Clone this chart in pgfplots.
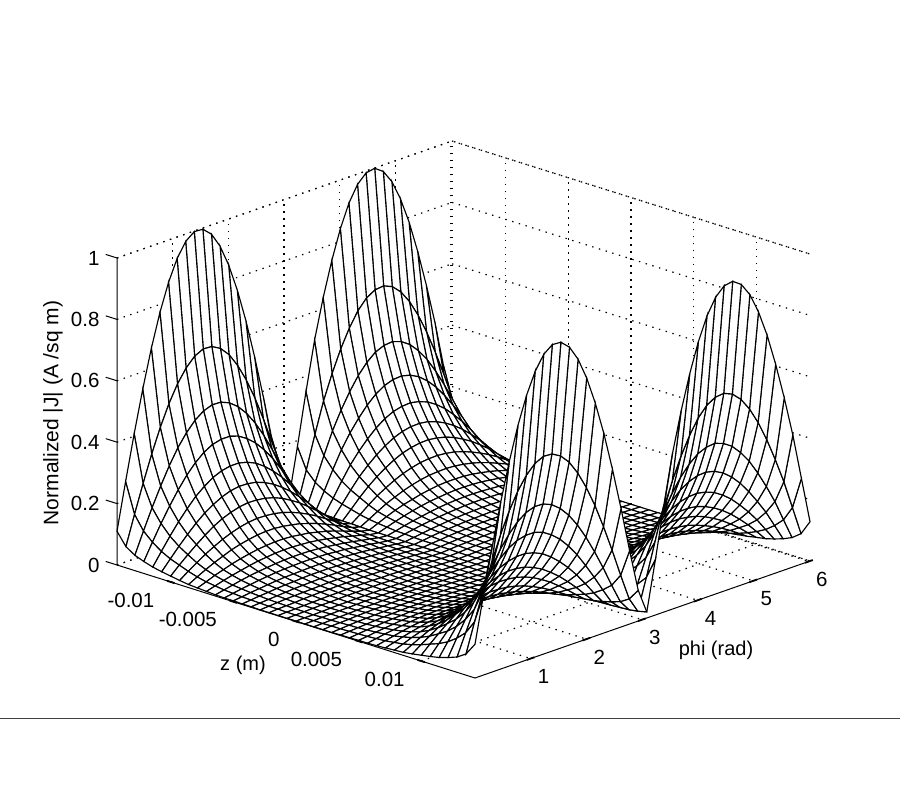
\documentclass[border=0pt]{standalone}
\usepackage{pgfplots}
\pgfplotsset{compat=1.18}
\usepackage{fontspec}
\setmainfont{Liberation Sans}
\begin{document}
\begin{tikzpicture}[x=1pt,y=1pt]
\useasboundingbox (0,0) rectangle (900,800);
\draw[black!75,line width=0.8pt] (0,82) -- (900,82);
\begin{axis}[
  anchor=origin, at={(296pt,178.5pt)},
  disabledatascaling, clip=false,
  y={(55.65pt,19.43pt)}, x={(12.517pt,-3.951pt)}, z={(0pt,307pt)},
  ymin=0, ymax=6.02, xmin=-14.3, xmax=14.3, zmin=0, zmax=1,
  ytick={1,2,3,4,5,6}, yticklabels={1,2,3,4,5,6},
  xtick={-10,-5,0,5,10}, xticklabels={-0.01,-0.005,0,0.005,0.01},
  ztick={0,0.2,0.4,0.6,0.8,1}, zticklabels={0,0.2,0.4,0.6,0.8,1},
  tick align=outside, major tick length=0pt,
  ticklabel style={font=\fontsize{20.5}{24}\selectfont},
  yticklabel style={anchor=center,xshift=13pt,yshift=-18pt},
  xticklabel style={anchor=east,xshift=-13pt,yshift=-18pt},
  zticklabel style={anchor=east,xshift=-14pt},
  grid=major,
  grid style={black,line width=1.2pt,dash pattern=on 1.4pt off 5.6pt},
  axis line style={draw=none},
]
\addplot3[black,line width=1.2pt,dash pattern=on 1.4pt off 5.6pt] coordinates {(-14.3,0,1)(-14.3,6.02,1)(14.3,6.02,1)};
\addplot3[black,line width=1.2pt,dash pattern=on 1.4pt off 5.6pt] coordinates {(-14.3,0,0)(-14.3,6.02,0)(14.3,6.02,0)};
\addplot3[black,line width=1.2pt,dash pattern=on 1.4pt off 5.6pt] coordinates {(-14.3,6.02,0)(-14.3,6.02,1)};
\addplot3[surf, shader=faceted, z buffer=none, faceted color=black, line width=1.15pt,
  colormap={bw}{color=(white) color=(white)}, mesh/cols=41, mesh/rows=40, mesh/check=false]
  table[header=false, y expr={(39-floor((\coordindex+0.5)/41))*0.15436}, x expr={(mod(\coordindex,41)-20)*0.715}, z expr={\thisrowno{0}/1000}] {
128
80
58
45
35
27
22
16
12
9
7
5
4
3
2
2
2
1
1
1
1
1
1
1
2
2
2
3
4
5
7
9
12
16
22
27
35
45
58
80
128
279
175
126
98
76
60
47
36
27
20
15
11
9
7
5
4
3
3
2
2
2
2
2
3
3
4
5
7
9
11
15
20
27
36
47
60
76
98
126
175
279
430
269
195
151
117
92
73
55
41
30
23
17
13
10
8
6
5
4
3
3
3
3
3
4
5
6
8
10
13
17
23
30
41
55
73
92
117
151
195
269
430
561
351
254
196
153
120
95
72
53
39
30
22
17
13
11
8
7
6
4
4
3
4
4
6
7
8
11
13
17
22
30
39
53
72
95
120
153
196
254
351
561
680
426
308
238
185
146
116
87
65
48
36
27
21
16
13
10
8
7
5
5
4
5
5
7
8
10
13
16
21
27
36
48
65
87
116
146
185
238
308
426
680
785
491
356
275
214
168
133
100
75
55
42
31
24
19
15
12
9
8
6
5
5
5
6
8
9
12
15
19
24
31
42
55
75
100
133
168
214
275
356
491
785
870
545
394
305
237
186
148
111
83
61
46
35
27
21
17
13
10
9
7
6
5
6
7
9
10
13
17
21
27
35
46
61
83
111
148
186
237
305
394
545
870
936
586
424
328
255
200
159
120
89
66
50
37
29
22
18
14
11
9
7
7
6
7
7
9
11
14
18
22
29
37
50
66
89
120
159
200
255
328
424
586
936
979
613
443
343
266
210
166
125
93
69
52
39
30
23
19
15
12
10
8
7
6
7
8
10
12
15
19
23
30
39
52
69
93
125
166
210
266
343
443
613
979
999
625
453
350
272
214
170
128
95
70
53
40
31
24
19
15
12
10
8
7
6
7
8
10
12
15
19
24
31
40
53
70
95
128
170
214
272
350
453
625
999
994
622
450
348
270
213
169
127
94
70
53
40
31
24
19
15
12
10
8
7
6
7
8
10
12
15
19
24
31
40
53
70
94
127
169
213
270
348
450
622
994
966
605
438
338
263
207
164
124
92
68
51
39
30
23
18
14
12
10
8
7
6
7
8
10
12
14
18
23
30
39
51
68
92
124
164
207
263
338
438
605
966
915
573
414
320
249
196
156
117
87
64
48
37
28
22
17
14
11
9
7
6
5
6
7
9
11
14
17
22
28
37
48
64
87
117
156
196
249
320
414
573
915
841
526
381
294
229
180
143
108
80
59
45
34
26
20
16
13
10
8
7
6
5
6
7
8
10
13
16
20
26
34
45
59
80
108
143
180
229
294
381
526
841
747
468
338
261
203
160
127
96
71
52
40
30
23
18
14
11
9
7
6
5
4
5
6
7
9
11
14
18
23
30
40
52
71
96
127
160
203
261
338
468
747
636
398
288
223
173
136
108
81
60
45
34
25
20
15
12
10
8
6
5
4
4
4
5
6
8
10
12
15
20
25
34
45
60
81
108
136
173
223
288
398
636
508
318
230
178
138
109
86
65
48
36
27
20
16
12
10
8
6
5
4
4
3
4
4
5
6
8
10
12
16
20
27
36
48
65
86
109
138
178
230
318
508
350
219
159
123
95
75
60
45
33
25
19
14
11
8
7
5
4
4
3
2
2
2
3
4
4
5
7
8
11
14
19
25
33
45
60
75
95
123
159
219
350
180
113
82
63
49
39
31
23
17
13
10
7
6
4
3
3
2
2
1
1
1
1
1
2
2
3
3
4
6
7
10
13
17
23
31
39
49
63
82
113
180
20
13
9
7
5
4
3
3
2
1
1
1
1
0
0
0
0
0
0
0
0
0
0
0
0
0
0
0
1
1
1
1
2
3
3
4
5
7
9
13
20
100
63
45
35
27
21
17
13
10
7
5
4
3
2
2
2
1
1
1
1
1
1
1
1
1
2
2
2
3
4
5
7
10
13
17
21
27
35
45
63
100
239
150
108
84
65
51
41
31
23
17
13
10
7
6
5
4
3
2
2
2
1
2
2
2
3
4
5
6
7
10
13
17
23
31
41
51
65
84
108
150
239
386
242
175
135
105
83
66
49
37
27
20
15
12
9
7
6
5
4
3
3
2
3
3
4
5
6
7
9
12
15
20
27
37
49
66
83
105
135
175
242
386
524
328
237
183
143
112
89
67
50
37
28
21
16
13
10
8
6
5
4
4
3
4
4
5
6
8
10
13
16
21
28
37
50
67
89
112
143
183
237
328
524
650
407
294
228
177
139
111
83
62
46
34
26
20
16
12
10
8
7
5
5
4
5
5
7
8
10
12
16
20
26
34
46
62
83
111
139
177
228
294
407
650
759
475
344
266
206
162
129
97
72
53
40
30
24
18
14
11
9
8
6
5
5
5
6
8
9
11
14
18
24
30
40
53
72
97
129
162
206
266
344
475
759
850
532
385
298
231
182
145
109
81
60
45
34
26
20
16
13
10
9
7
6
5
6
7
9
10
13
16
20
26
34
45
60
81
109
145
182
231
298
385
532
850
921
577
417
322
251
197
157
118
87
64
49
37
29
22
17
14
11
9
7
6
6
6
7
9
11
14
17
22
29
37
49
64
87
118
157
197
251
322
417
577
921
970
607
439
340
264
208
165
124
92
68
51
39
30
23
18
15
12
10
8
7
6
7
8
10
12
15
18
23
30
39
51
68
92
124
165
208
264
340
439
607
970
996
623
451
349
271
213
169
127
95
70
53
40
31
24
19
15
12
10
8
7
6
7
8
10
12
15
19
24
31
40
53
70
95
127
169
213
271
349
451
623
996
998
625
452
349
271
214
170
128
95
70
53
40
31
24
19
15
12
10
8
7
6
7
8
10
12
15
19
24
31
40
53
70
95
128
170
214
271
349
452
625
998
976
611
442
342
265
209
166
125
93
68
52
39
30
23
19
15
12
10
8
7
6
7
8
10
12
15
19
23
30
39
52
68
93
125
166
209
265
342
442
611
976
930
582
421
326
253
199
158
119
88
65
49
37
29
22
18
14
11
9
7
7
6
7
7
9
11
14
18
22
29
37
49
65
88
119
158
199
253
326
421
582
930
862
540
390
302
234
184
147
110
82
60
46
34
27
21
16
13
10
9
7
6
5
6
7
9
10
13
16
21
27
34
46
60
82
110
147
184
234
302
390
540
862
774
485
351
271
211
166
132
99
74
54
41
31
24
19
15
12
9
8
6
5
5
5
6
8
9
12
15
19
24
31
41
54
74
99
132
166
211
271
351
485
774
667
418
302
233
181
143
113
85
63
47
35
27
21
16
13
10
8
7
5
5
4
5
5
7
8
10
13
16
21
27
35
47
63
85
113
143
181
233
302
418
667
544
341
246
190
148
116
92
70
52
38
29
22
17
13
10
8
7
5
4
4
3
4
4
5
7
8
10
13
17
22
29
38
52
70
92
116
148
190
246
341
544
408
255
185
143
111
87
69
52
39
29
22
16
13
10
8
6
5
4
3
3
2
3
3
4
5
6
8
10
13
16
22
29
39
52
69
87
111
143
185
255
408
262
164
119
92
71
56
45
34
25
18
14
10
8
6
5
4
3
3
2
2
2
2
2
3
3
4
5
6
8
10
14
18
25
34
45
56
71
92
119
164
262
110
69
50
39
30
24
19
14
10
8
6
4
3
3
2
2
1
1
1
1
1
1
1
1
1
2
2
3
3
4
6
8
10
14
19
24
30
39
50
69
110
};
\addplot3[black,line width=1pt] coordinates {(-14.3,0,1)(-14.3,0,0)(14.3,0,0)(14.3,6.02,0)};
\pgfplotsinvokeforeach{0,0.2,0.4,0.6,0.8,1}{
  \addplot3[black,line width=1pt] coordinates {(-14.3,0,#1)(-15.2,0,#1)};
}
\pgfplotsinvokeforeach{-10,-5,0,5,10}{
  \addplot3[black,line width=1.8pt] coordinates {(#1-0.3,0,0)(#1+0.3,0,0)};
}
\pgfplotsinvokeforeach{1,2,3,4,5,6}{
  \addplot3[black,line width=1.8pt] coordinates {(14.3,#1-0.07,0)(14.3,#1+0.07,0)};
}
\end{axis}
\node[font=\fontsize{20}{24}\selectfont] at (716,150) {phi (rad)};
\node[font=\fontsize{20}{24}\selectfont] at (243,135) {z (m)};
\node[font=\fontsize{21}{24}\selectfont,rotate=90] at (53,387) {Normalized |J| (A /sq m)};
\end{tikzpicture}
\end{document}
